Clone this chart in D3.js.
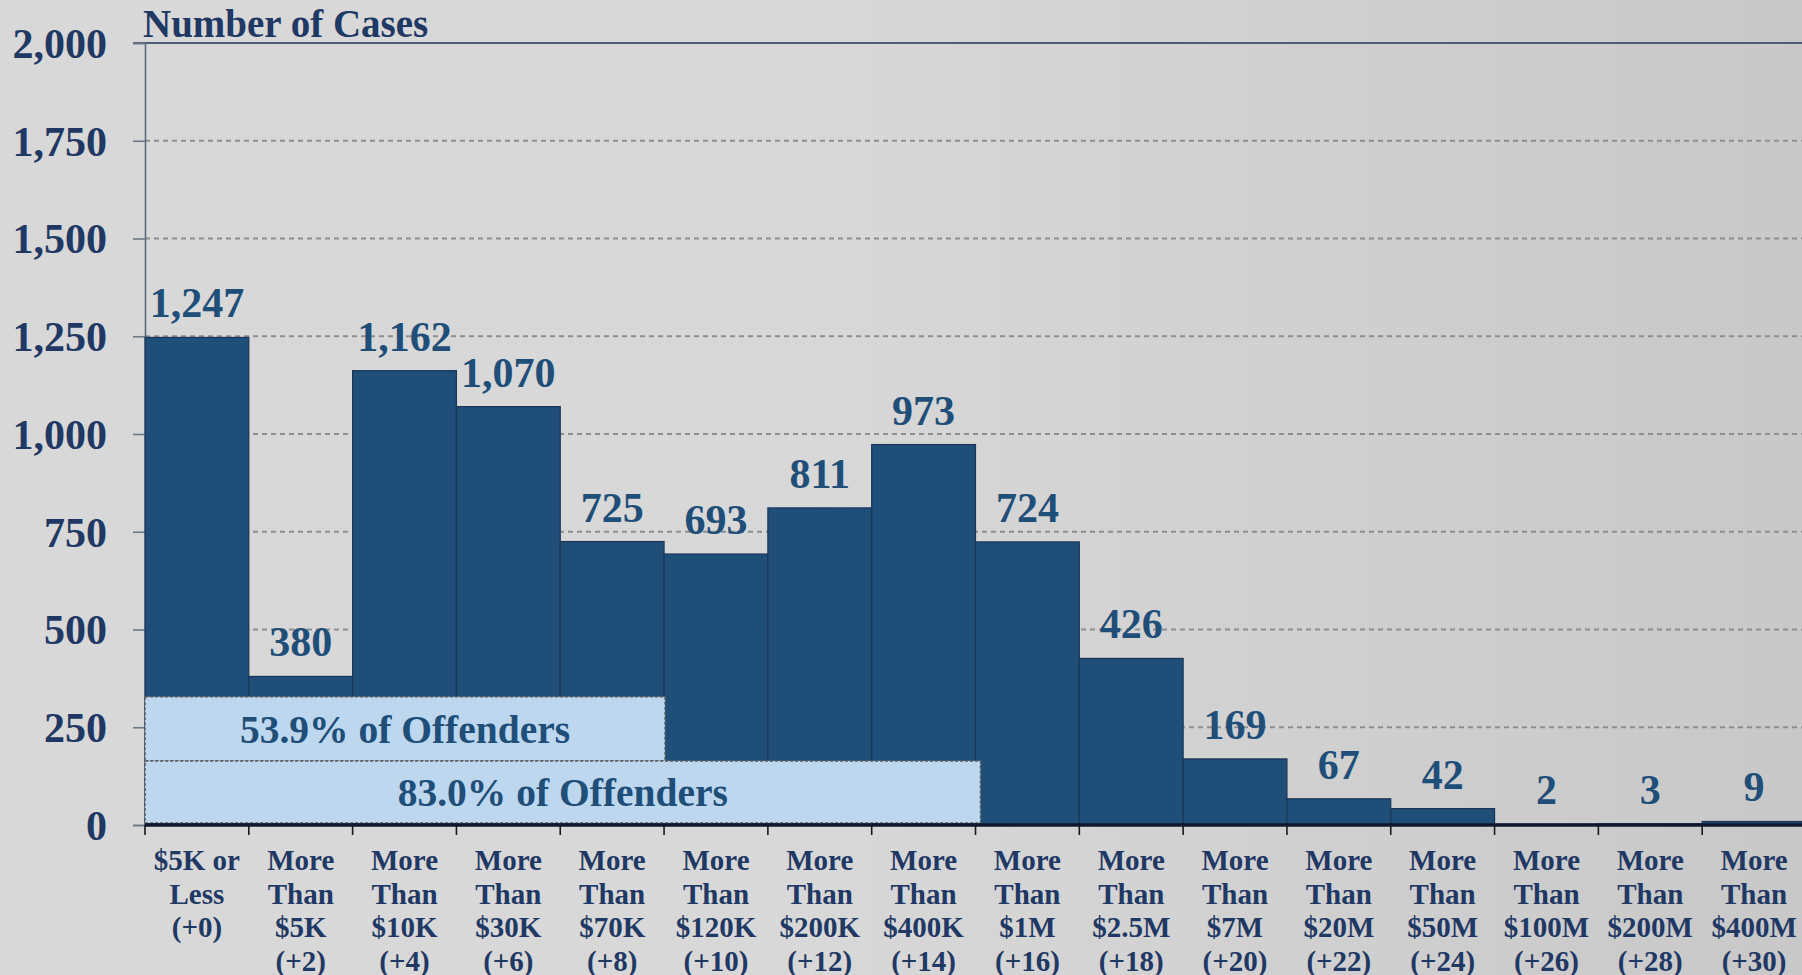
<!DOCTYPE html>
<html>
<head>
<meta charset="utf-8">
<script src="https://cdn.jsdelivr.net/npm/d3@7"></script>
<style>
  html, body { margin: 0; padding: 0; overflow: hidden; }
  svg { display: block; }
</style>
</head>
<body>
<div id="chart"></div>
<script>
// fraud loss categories, one label line per entry
const categories = [
  ["$5K or", "Less", "(+0)"],
  ["More", "Than", "$5K", "(+2)"],
  ["More", "Than", "$10K", "(+4)"],
  ["More", "Than", "$30K", "(+6)"],
  ["More", "Than", "$70K", "(+8)"],
  ["More", "Than", "$120K", "(+10)"],
  ["More", "Than", "$200K", "(+12)"],
  ["More", "Than", "$400K", "(+14)"],
  ["More", "Than", "$1M", "(+16)"],
  ["More", "Than", "$2.5M", "(+18)"],
  ["More", "Than", "$7M", "(+20)"],
  ["More", "Than", "$20M", "(+22)"],
  ["More", "Than", "$50M", "(+24)"],
  ["More", "Than", "$100M", "(+26)"],
  ["More", "Than", "$200M", "(+28)"],
  ["More", "Than", "$400M", "(+30)"]
];
const cases = [1247, 380, 1162, 1070, 725, 693, 811, 973, 724, 426, 169, 67, 42, 2, 3, 9];
const yTicks = [0, 250, 500, 750, 1000, 1250, 1500, 1750, 2000];
const yTitle = "Number of Cases";
// cumulative share boxes: first..last category covered, value band
const shareLabels = ["53.9% of Offenders", "83.0% of Offenders"];
const shareLast = [4, 7];
const shareBand = [[164, 328], [0, 164]];

const W = 1802, H = 975;
const m = {left: 145, top: 43, bottom: 825};
const plotRight = 1806;

const navy = "#1f3864";
const blue = "#1f4e79";
const serif = "'Liberation Serif', 'Times New Roman', serif";

const svg = d3.select("#chart").append("svg")
  .attr("width", W)
  .attr("height", H);

const defs = svg.append("defs");
const bg = defs.append("linearGradient").attr("id", "bg")
  .attr("x1", "0").attr("y1", "0").attr("x2", "1").attr("y2", "0");
bg.append("stop").attr("offset", "0%").attr("stop-color", "#d8d8d8");
bg.append("stop").attr("offset", "45%").attr("stop-color", "#d8d8d8");
bg.append("stop").attr("offset", "100%").attr("stop-color", "#c8c8c8");

svg.append("rect").attr("width", W).attr("height", H).attr("fill", "url(#bg)");

const x = d3.scaleBand()
  .domain(d3.range(categories.length))
  .range([m.left, plotRight])
  .padding(0);

const y = d3.scaleLinear()
  .domain([0, 2000])
  .range([m.bottom, m.top]);

// gridlines
svg.append("g")
  .selectAll("line")
  .data(yTicks.filter(d => d > 0 && d < 2000))
  .join("line")
  .attr("x1", m.left).attr("x2", W)
  .attr("y1", d => y(d)).attr("y2", d => y(d))
  .attr("stroke", "#8e8e8e")
  .attr("stroke-width", 1.8)
  .attr("stroke-dasharray", "5,4");

// top line at 2000
svg.append("line")
  .attr("x1", m.left - 12).attr("x2", W)
  .attr("y1", y(2000)).attr("y2", y(2000))
  .attr("stroke", "#4e5d74")
  .attr("stroke-width", 2);

// y axis
const yAxis = svg.append("g")
  .attr("transform", `translate(${m.left},0)`)
  .call(d3.axisLeft(y).tickValues(yTicks).tickSize(12).tickPadding(26).tickFormat(d3.format(",")));
yAxis.select(".domain").attr("stroke", "#5b6a80").attr("stroke-width", 1.6);
yAxis.selectAll(".tick line").attr("stroke", "#6b7888").attr("stroke-width", 1.6);
yAxis.selectAll(".tick text")
  .attr("font-family", serif)
  .attr("font-weight", "bold")
  .attr("font-size", 42)
  .attr("fill", navy)
  .attr("dy", "0.34em");

// bars
svg.append("g")
  .selectAll("rect")
  .data(cases)
  .join("rect")
  .attr("x", (d, i) => x(i))
  .attr("y", d => y(d))
  .attr("width", x.bandwidth())
  .attr("height", d => y(0) - y(d))
  .attr("fill", blue)
  .attr("stroke", "#1a3558")
  .attr("stroke-width", 1.2);

// value labels
svg.append("g")
  .selectAll("text")
  .data(cases)
  .join("text")
  .attr("x", (d, i) => x(i) + x.bandwidth() / 2)
  .attr("y", d => y(d) - 20)
  .attr("text-anchor", "middle")
  .attr("font-family", serif)
  .attr("font-weight", "bold")
  .attr("font-size", 42)
  .attr("fill", blue)
  .text(d => d3.format(",")(d));

// share boxes
const boxes = svg.append("g");
shareLabels.forEach((lab, k) => {
  const x0 = x(0);
  const x1 = x(shareLast[k]) + x.bandwidth() + (k === 1 ? 5 : 1);
  const y0 = y(shareBand[k][1]);
  const y1 = y(shareBand[k][0]) - (k === 1 ? 2 : 0);
  boxes.append("rect")
    .attr("x", x0).attr("y", y0)
    .attr("width", x1 - x0).attr("height", y1 - y0)
    .attr("fill", "#bdd7ee")
    .attr("stroke", "#5a5a5a")
    .attr("stroke-width", 1.5)
    .attr("stroke-dasharray", "3,2");
  boxes.append("text")
    .attr("x", (x0 + x1) / 2)
    .attr("y", (y0 + y1) / 2)
    .attr("dy", "0.35em")
    .attr("text-anchor", "middle")
    .attr("font-family", serif)
    .attr("font-weight", "bold")
    .attr("font-size", 39.5)
    .attr("fill", blue)
    .text(lab);
});

// x axis
const xAxis = svg.append("g")
  .attr("transform", `translate(0,${m.bottom})`);
xAxis.append("line")
  .attr("x1", m.left).attr("x2", W)
  .attr("stroke", "#0e1a2c")
  .attr("stroke-width", 3.5);
xAxis.selectAll("line.tk")
  .data(d3.range(categories.length))
  .join("line")
  .attr("class", "tk")
  .attr("x1", i => x(i)).attr("x2", i => x(i))
  .attr("y1", 0).attr("y2", 10)
  .attr("stroke", "#1a1a1a")
  .attr("stroke-width", 1.6);

const lbl = xAxis.selectAll("text.cat")
  .data(categories)
  .join("text")
  .attr("class", "cat")
  .attr("x", (d, i) => x(i) + x.bandwidth() / 2)
  .attr("y", 45)
  .attr("text-anchor", "middle")
  .attr("font-family", serif)
  .attr("font-weight", "bold")
  .attr("font-size", 29)
  .attr("fill", navy);
lbl.selectAll("tspan")
  .data(d => d)
  .join("tspan")
  .attr("x", function () { return d3.select(this.parentNode).attr("x"); })
  .attr("dy", (d, j) => j === 0 ? 0 : 33.5)
  .text(d => d);

// title
svg.append("text")
  .attr("x", 143)
  .attr("y", 37)
  .attr("font-family", serif)
  .attr("font-weight", "bold")
  .attr("font-size", 39)
  .attr("fill", navy)
  .text(yTitle);
</script>
</body>
</html>
